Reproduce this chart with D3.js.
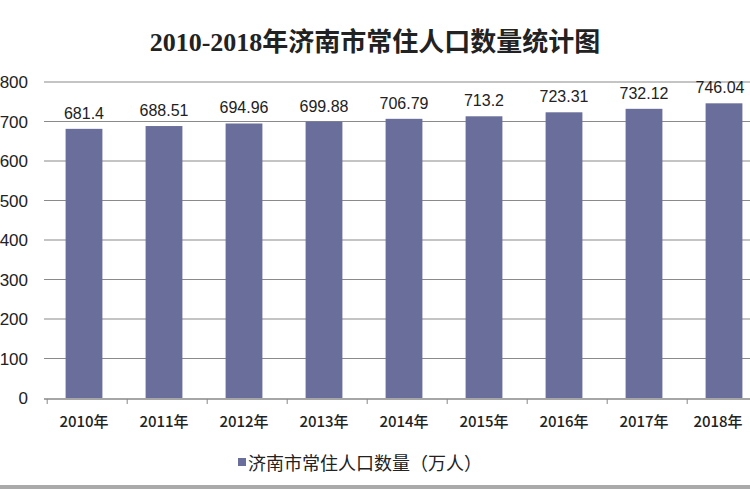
<!DOCTYPE html>
<html><head><meta charset="utf-8">
<script src="https://cdn.jsdelivr.net/npm/d3@7"></script>
<style>body{margin:0;background:#fff}</style>
</head><body>
<script>
var years = ["2010年","2011年","2012年","2013年","2014年","2015年","2016年","2017年","2018年"];
var values = [681.4, 688.51, 694.96, 699.88, 706.79, 713.2, 723.31, 732.12, 746.04];
var labels = ["681.4","688.51","694.96","699.88","706.79","713.2","723.31","732.12","746.04"];
var yTicks = [0,100,200,300,400,500,600,700,800];

var svg = d3.select("body").append("svg").attr("width",750).attr("height",500);
var x = d3.scaleBand().domain(years).range([44,764]).paddingInner(0.54).paddingOuter(0.27);
var y = d3.scaleLinear().domain([0,800]).range([398,82]);

svg.append("text").attr("x",375).attr("y",51).attr("text-anchor","middle")
  .style("font-family","'Liberation Serif','Noto Sans CJK SC',serif").style("font-weight","bold")
  .style("font-size","26px").attr("fill","#222").text("2010-2018年济南市常住人口数量统计图");

svg.selectAll("line.grid").data(yTicks.slice(1)).enter().append("line")
  .attr("x1",44).attr("x2",750).attr("y1",y).attr("y2",y)
  .attr("stroke","#8a8a8a").attr("stroke-width",1.2);

svg.selectAll("text.yt").data(yTicks).enter().append("text")
  .attr("x",28).attr("y",function(d){return y(d)+6;})
  .attr("text-anchor","end").style("font-family","Arial,'Liberation Sans',sans-serif")
  .style("font-size","17px").attr("fill","#222").text(function(d){return d;});

svg.selectAll("rect.bar").data(values).enter().append("rect")
  .attr("x",function(d,i){return x(years[i]);}).attr("width",x.bandwidth())
  .attr("y",y).attr("height",function(d){return y(0)-y(d);}).attr("fill","#6a6e9a");

svg.selectAll("text.lbl").data(values).enter().append("text")
  .attr("x",function(d,i){return Math.min(x(years[i])+x.bandwidth()/2, 720);}).attr("y",function(d){return y(d)-10;})
  .attr("text-anchor","middle").style("font-family","Arial,'Liberation Sans',sans-serif")
  .style("font-size","16px").attr("fill","#222").text(function(d,i){return labels[i];});

svg.append("line").attr("x1",44).attr("x2",750).attr("y1",399).attr("y2",399)
  .attr("stroke","#888").attr("stroke-width",1.5);
var step = x.step();
svg.selectAll("line.tk").data(d3.range(years.length+1)).enter().append("line")
  .attr("x1",function(i){return x(years[0])-step*0.23+i*step;})
  .attr("x2",function(i){return x(years[0])-step*0.23+i*step;})
  .attr("y1",399).attr("y2",404).attr("stroke","#888");

svg.selectAll("text.xt").data(years).enter().append("text")
  .attr("x",function(d){return Math.min(x(d)+x.bandwidth()/2, 718);}).attr("y",427)
  .attr("text-anchor","middle").style("font-family","'Noto Sans CJK SC',sans-serif")
  .style("font-size","15px").style("font-weight","500").attr("fill","#222").text(function(d){return d;});

svg.append("rect").attr("x",238).attr("y",458).attr("width",8).attr("height",8).attr("fill","#6a6e9a");
svg.append("text").attr("x",248).attr("y",470)
  .style("font-family","'Noto Sans CJK SC',sans-serif").style("font-size","18px").attr("fill","#222")
  .text("济南市常住人口数量（万人）");

svg.append("rect").attr("x",0).attr("y",485).attr("width",750).attr("height",4).attr("fill","#aaa");
</script>
</body></html>
